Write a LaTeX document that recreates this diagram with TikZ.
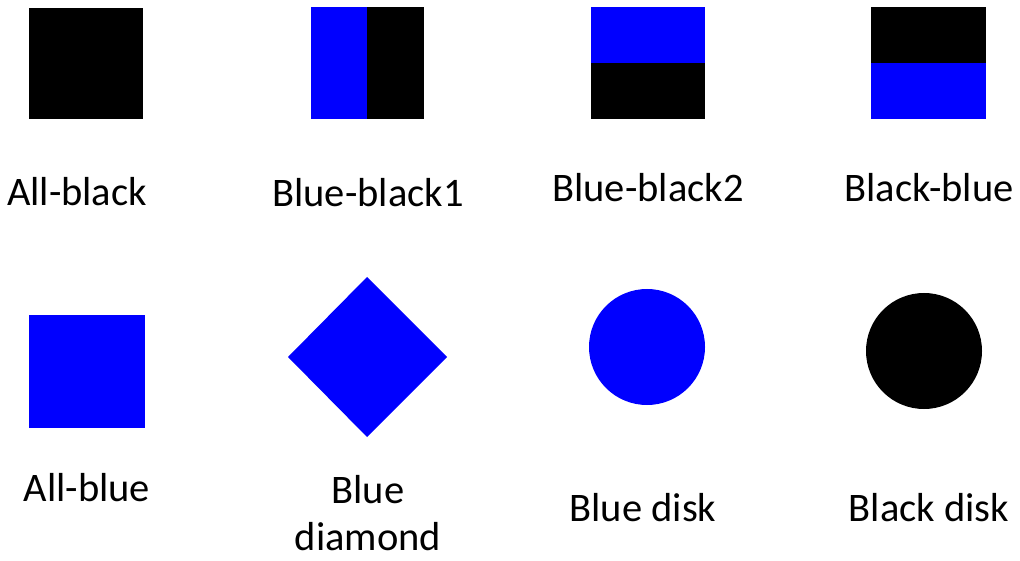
\documentclass[tikz,border=0pt]{standalone}
\usepackage{fontspec}
\setmainfont{Carlito}
\definecolor{pblue}{RGB}{0,0,255}
\begin{document}
\begin{tikzpicture}[x=1pt,y=-1pt,
  lbl/.style={anchor=base,inner sep=0pt,font=\fontsize{40.5}{48}\selectfont,align=center}]
\useasboundingbox (0,0) rectangle (1020,561);
% row 1
\fill[black] (29,8) rectangle (143,119);
\fill[pblue] (311,7) rectangle (367,119);
\fill[black] (367,7) rectangle (424,119);
\fill[pblue] (591,7) rectangle (705,63);
\fill[black] (591,63) rectangle (705,119);
\fill[black] (871,7) rectangle (986,63);
\fill[pblue] (871,63) rectangle (986,119);
\node[lbl] (l1) at (77,206) {All-black};
\node[lbl] (l2) at (368,207) {Blue-black1};
\node[lbl] (l3) at (648,202) {Blue-black2};
\node[lbl] (l4) at (929,202) {Black-blue};
% row 2
\fill[pblue] (29,315) rectangle (145,428);
\fill[pblue] (288,357) -- (367,277) -- (447,357) -- (367,437) -- cycle;
\fill[pblue] (647,347) circle (58);
\fill[black] (924,351) circle (58);
\node[lbl] (l5) at (87,501) {All-blue};
\node[lbl] (l6a) at (368,503) {Blue};
\node[lbl] (l6b) at (368,550) {diamond};
\node[lbl] (l7) at (643,521) {Blue disk};
\node[lbl] (l8) at (929,521) {Black disk};
\end{tikzpicture}
\end{document}
